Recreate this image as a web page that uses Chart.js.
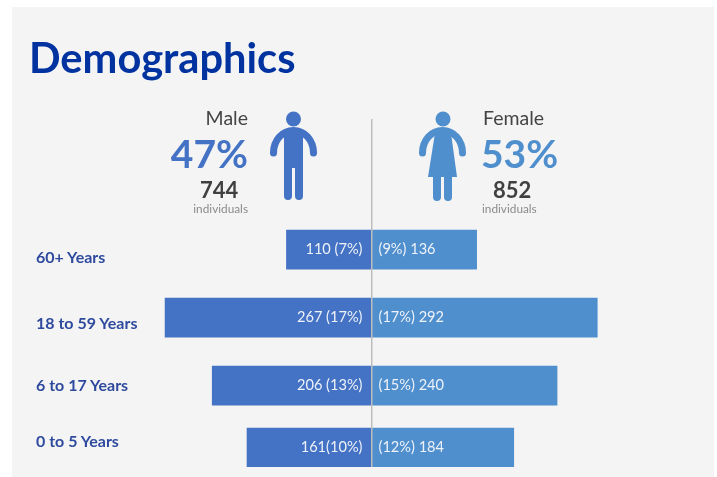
<!DOCTYPE html>
<html>
<head>
<meta charset="utf-8">
<title>Demographics</title>
<script src="https://cdn.jsdelivr.net/npm/chart.js@4"></script>
<style>
  html, body { margin: 0; padding: 0; background: #fff; }
  body { width: 717px; height: 477px; position: relative; overflow: hidden; font-family: Lato, sans-serif; }
  #panel { position: absolute; left: 12px; top: 7px; width: 702px; height: 470px; background: #f4f4f4; }
  #c { position: absolute; left: 0; top: 0; }
  .t { position: absolute; white-space: nowrap; line-height: 1; }
  .title { left: 29px; top: 37px; font-size: 41.6px; font-weight: 700; color: #0033a0; }
  .name { font-size: 19.5px; color: #444; top: 108px; }
  .pct { font-size: 39px; font-weight: 700; top: 134px; }
  .count { font-size: 22px; font-weight: 700; color: #404040; top: 179px; }
  .ind { font-size: 11.8px; color: #8c8c8c; top: 203px; }
  .cat { left: 36px; font-size: 16px; font-weight: 700; color: #2e4a9e; }
  svg { position: absolute; left: 0; top: 0; }
</style>
</head>
<body>
<div id="panel"></div>
<canvas id="c" width="717" height="477"></canvas>

<svg width="717" height="477">
  <!-- male -->
  <g fill="#4472c4" stroke="none">
    <circle cx="293.5" cy="119" r="7.5"/>
    <path d="M284 140h19v56a4 4 0 0 1-8 0v-28h-3v28a4 4 0 0 1-8 0z"/>
    <path d="M273.5 153c0-13 9-22.500 20-22.500s20 9.500 20 22.500" fill="none" stroke="#4472c4" stroke-width="7" stroke-linecap="round"/>
    <rect x="284" y="132" width="19" height="12"/>
  </g>
  <!-- female -->
  <g fill="#4f8fcd" stroke="none">
    <circle cx="443" cy="119" r="7.500"/>
    <path d="M422.500 153c0-13 9-22.500 20-22.500s20 9.500 20 22.500" fill="none" stroke="#4f8fcd" stroke-width="7" stroke-linecap="round"/>
    <path d="M435 133h16l6 44h-5v20a4 4 0 0 1-8 0v-20h-3v20a4 4 0 0 1-8 0v-20h-5z"/>
  </g>
</svg>

<div class="t title">Demographics</div>
<div class="t name" style="right:469px">Male</div>
<div class="t pct" style="right:469px;color:#4472c4">47%</div>
<div class="t count" style="left:200px">744</div>
<div class="t ind" style="right:469px">individuals</div>
<div class="t name" style="left:483px">Female</div>
<div class="t pct" style="left:481px;color:#4f8fcd">53%</div>
<div class="t count" style="left:493px">852</div>
<div class="t ind" style="left:482px">individuals</div>

<script>
const categories = ['60+ Years', '18 to 59 Years', '6 to 17 Years', '0 to 5 Years'];
const maleValues = [110, 267, 206, 161];
const femaleValues = [136, 292, 240, 184];
const maleLabels = ['110 (7%)', '267 (17%)', '206 (13%)', '161(10%)'];
const femaleLabels = ['(9%) 136', '(17%) 292', '(15%) 240', '(12%) 184'];
// rows aren't evenly spaced in the original, last gap is tighter
const rowSlots = [2.91, 1.91, 0.91, 0];
const catLabelTops = [249, 315, 377, 433];

categories.forEach((name, i) => {
    const el = document.createElement('div');
    el.className = 't cat';
    el.style.top = catLabelTops[i] + 'px';
    el.textContent = name;
    document.body.appendChild(el);
});

// draws the "267 (17%)" style text inside the bars
const barText = {
    id: 'barText',
    afterDatasetsDraw(chart) {
        const ctx = chart.ctx;
        ctx.save();
        ctx.font = '14.6px Lato, sans-serif';
        ctx.fillStyle = '#eef2f9';
        ctx.textBaseline = 'middle';
        const zero = chart.scales.x.getPixelForValue(0);
        chart.getDatasetMeta(0).data.forEach((bar, i) => {
            ctx.textAlign = 'right';
            ctx.fillText(maleLabels[i], zero - 9, bar.y);
        });
        chart.getDatasetMeta(1).data.forEach((bar, i) => {
            ctx.textAlign = 'left';
            ctx.fillText(femaleLabels[i], zero + 7, bar.y);
        });
        ctx.restore();
    },
};

new Chart(document.getElementById('c').getContext('2d'), {
    type: 'bar',
    data: {
        datasets: [
            {
                label: 'Male',
                data: maleValues.map((v, i) => ({ x: -v, y: rowSlots[i] })),
                backgroundColor: '#4472c4',
                barThickness: 39,
            },
            {
                label: 'Female',
                data: femaleValues.map((v, i) => ({ x: v, y: rowSlots[i] })),
                backgroundColor: '#4f8fcd',
                barThickness: 39,
            },
        ],
    },
    options: {
        indexAxis: 'y',
        responsive: false,
        animation: false,
        layout: { padding: { left: 29, right: 3, top: 119, bottom: 10 } },
        plugins: { legend: { display: false }, tooltip: { enabled: false } },
        scales: {
            x: {
                type: 'linear',
                min: -443,
                max: 443,
                stacked: true,
                display: true,
                border: { display: false },
                ticks: { display: false, stepSize: 443 },
                grid: {
                    z: 1,
                    drawTicks: false,
                    lineWidth: 1.5,
                    color: ctx => (ctx.tick && ctx.tick.value === 0 ? '#bdbdbd' : 'transparent'),
                },
            },
            y: {
                type: 'linear',
                offset: false,
                min: -0.287,
                max: 4.83,
                stacked: true,
                display: false,
            },
        },
    },
    plugins: [barText],
});
</script>
</body>
</html>
